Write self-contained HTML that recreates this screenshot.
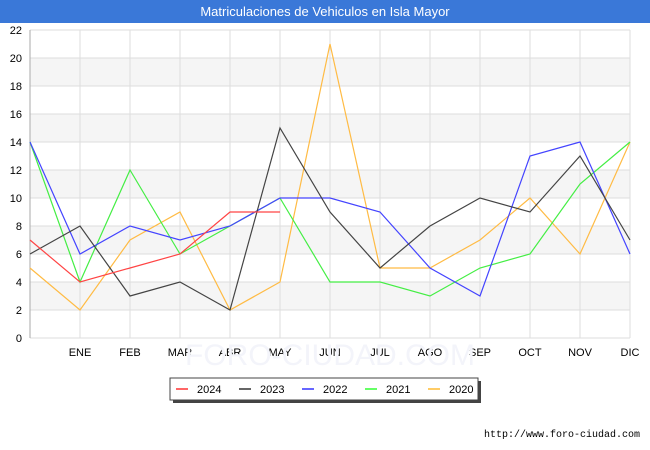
<!DOCTYPE html>
<html><head><meta charset="utf-8"><style>
body{margin:0;background:#fff;font-family:"Liberation Sans","DejaVu Sans",sans-serif;}
#wrap{position:relative;width:650px;height:450px;overflow:hidden;}
#title{position:absolute;left:0;top:0;width:650px;height:23px;background:#3a78d8;color:#fff;font-size:13px;line-height:23px;text-align:center;}
</style></head><body>
<div id="wrap">
<div id="title">Matriculaciones de Vehiculos en Isla Mayor</div>
<svg id="svg" width="650" height="450" style="position:absolute;left:0;top:0"></svg>
</div>
<script>
const categories=["","ENE","FEB","MAR","ABR","MAY","JUN","JUL","AGO","SEP","OCT","NOV","DIC"];
const yTicks=[0,2,4,6,8,10,12,14,16,18,20,22];
const s2024=[7,4,5,6,9,9];
const s2023=[6,8,3,4,2,15,9,5,8,10,9,13,7];
const s2022=[14,6,8,7,8,10,10,9,5,3,13,14,6];
const s2021=[14,4,12,6,8,10,4,4,3,5,6,11,14];
const s2020=[5,2,7,9,2,4,21,5,5,7,10,6,14];
const seriesNames=["2024","2023","2022","2021","2020"];
const seriesData=[s2024,s2023,s2022,s2021,s2020];
const colors=["#ff4444","#444444","#4444ff","#44ee44","#ffbb44"];
const legColors=["#ff6666","#666666","#6666ff","#66ff66","#ffcc66"];
const L=30,R=630,T=30,B=338,YMAX=22;
const x=i=>L+i*(R-L)/(categories.length-1);
const y=v=>B-v*(B-T)/YMAX;
const svg=document.getElementById('svg');
const NS="http://www.w3.org/2000/svg";
function mk(tag,attrs){const e=document.createElementNS(NS,tag);for(const k in attrs)e.setAttribute(k,attrs[k]);svg.appendChild(e);return e;}
for(let i=0;i<yTicks.length-1;i++){
  if(i%2===1){const r=mk('rect',{x:L,y:y(yTicks[i+1]),width:R-L,height:y(yTicks[i])-y(yTicks[i+1]),fill:'#f5f5f5'});
  
  }
}
yTicks.forEach(v=>{
  const l=mk('line',{x1:L,x2:R,y1:y(v),y2:y(v),stroke:'#dddddd','stroke-width':1});
  
  
  const t=mk('text',{x:L-8,y:y(v)+4,'text-anchor':'end','font-size':11,fill:'#000'});
  t.textContent=v;
  
  
});
categories.forEach((c,i)=>{
  const l=mk('line',{x1:x(i),x2:x(i),y1:T,y2:B,stroke:'#dddddd','stroke-width':1});
  
  
  if(c){const t=mk('text',{x:x(i),y:B+18,'text-anchor':'middle','font-size':11,fill:'#000'});
  t.textContent=c;
  
  }
});
const ax=mk('line',{x1:L,x2:L,y1:T,y2:B,stroke:'#aaa'});


const wm=mk('text',{x:330,y:365,'text-anchor':'middle','font-size':30,fill:'#f3f4fa'});
wm.textContent="FORO-CIUDAD.COM";


for(let s=seriesData.length-1;s>=0;s--){
  const d=seriesData[s].map((v,i)=>(i?'L':'M')+x(i)+','+y(v)).join(' ');
  const p=mk('path',{d:d,fill:'none',stroke:colors[s],'stroke-width':1.2});
  
  
}
const sh=mk('rect',{x:173,y:381,width:308,height:22,fill:'#444'});


const lb=mk('rect',{x:170,y:378,width:308,height:22,fill:'#fff',stroke:'#444'});


seriesNames.forEach((n,i)=>{
  const lx=176+i*63;
  const ln=mk('line',{x1:lx,x2:lx+12,y1:389,y2:389,stroke:legColors[i],'stroke-width':2});
  
  
  const t=mk('text',{x:lx+21,y:393,'font-size':11,fill:'#000'});
  t.textContent=n;
  
  
});
const u=mk('text',{x:640,y:437,'text-anchor':'end','font-size':10,fill:'#000','font-family':'Liberation Mono, monospace'});
u.textContent="http://www.foro-ciudad.com";


</script>
</body></html>
